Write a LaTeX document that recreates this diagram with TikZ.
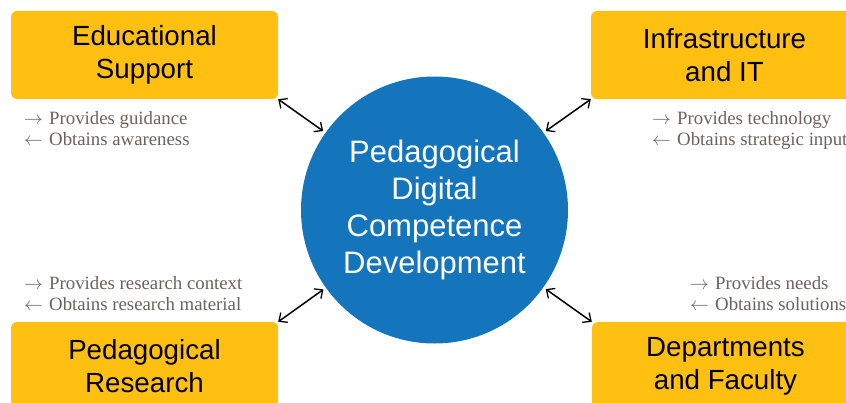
\RequirePackage{fix-cm}
\documentclass[tikz,border=0pt]{standalone}
\usepackage{fontspec}
\setmainfont{Liberation Serif}
\newfontfamily\boxfont{Liberation Sans}
\usetikzlibrary{arrows.meta}
\definecolor{amber}{RGB}{255,192,18}
\definecolor{hubblue}{RGB}{20,117,188}
\definecolor{notegray}{RGB}{107,98,92}
\tikzset{
  unit/.style={fill=amber, rounded corners=6pt, minimum width=267pt, minimum height=88pt,
    inner sep=0pt, align=center, font=\boxfont\fontsize{27.7}{33}\selectfont, text=black},
  hub/.style={circle, fill=hubblue, minimum size=267pt, inner sep=0pt, outer sep=3pt,
    align=center, font=\boxfont\fontsize{31}{37}\selectfont, text=white},
  note/.style={anchor=base west, align=left, inner sep=0pt, text=notegray,
    font=\fontsize{18.8}{21}\selectfont},
  link/.style={{Straight Barb[length=6.5pt,width=12pt,line width=1.3pt]}-{Straight Barb[length=6.5pt,width=12pt,line width=1.3pt]},
    line width=1.5pt, black}
}
% flow markers in front of each note line
\newcommand{\gives}{$\rightarrow$\ \hspace{1.5pt}}
\newcommand{\takes}{$\leftarrow$\ \hspace{1.5pt}}
\begin{document}
\begin{tikzpicture}[x=1pt,y=-1pt]
  \useasboundingbox (0,0) rectangle (846,403);
  \clip (0,0) rectangle (846,403);

  % central competence hub
  \node[hub] (pd) at (434.5,210) {Pedagogical\\Digital\\Competence\\Development};

  % surrounding units
  \node[unit] (es) at (144.5,55) {Educational\\Support};
  \node[unit] (it) at (724.5,55) {Infrastructure\\and IT};
  \node[unit] (pr) at (144.5,366) {Pedagogical\\Research};
  \node[unit] (df) at (725.5,366) {Departments\\and Faculty};

  % exchanges with the hub
  \draw[link] (es.south east) -- (pd);
  \draw[link] (it.south west) -- (pd);
  \draw[link] (pr.north east) -- (pd);
  \draw[link] (df.north west) -- (pd);

  % what each unit provides and obtains (anchored at the last baseline)
  \node[note] (nes) at (24,146) {\gives Provides guidance\\\takes Obtains awareness};
  \node[note] (nit) at (652,146) {\gives Provides technology\\\takes Obtains strategic input};
  \node[note] (npr) at (24,311) {\gives Provides research context\\\takes Obtains research material};
  \node[note] (ndf) at (690,311) {\gives Provides needs\\\takes Obtains solutions};
\end{tikzpicture}
\end{document}
